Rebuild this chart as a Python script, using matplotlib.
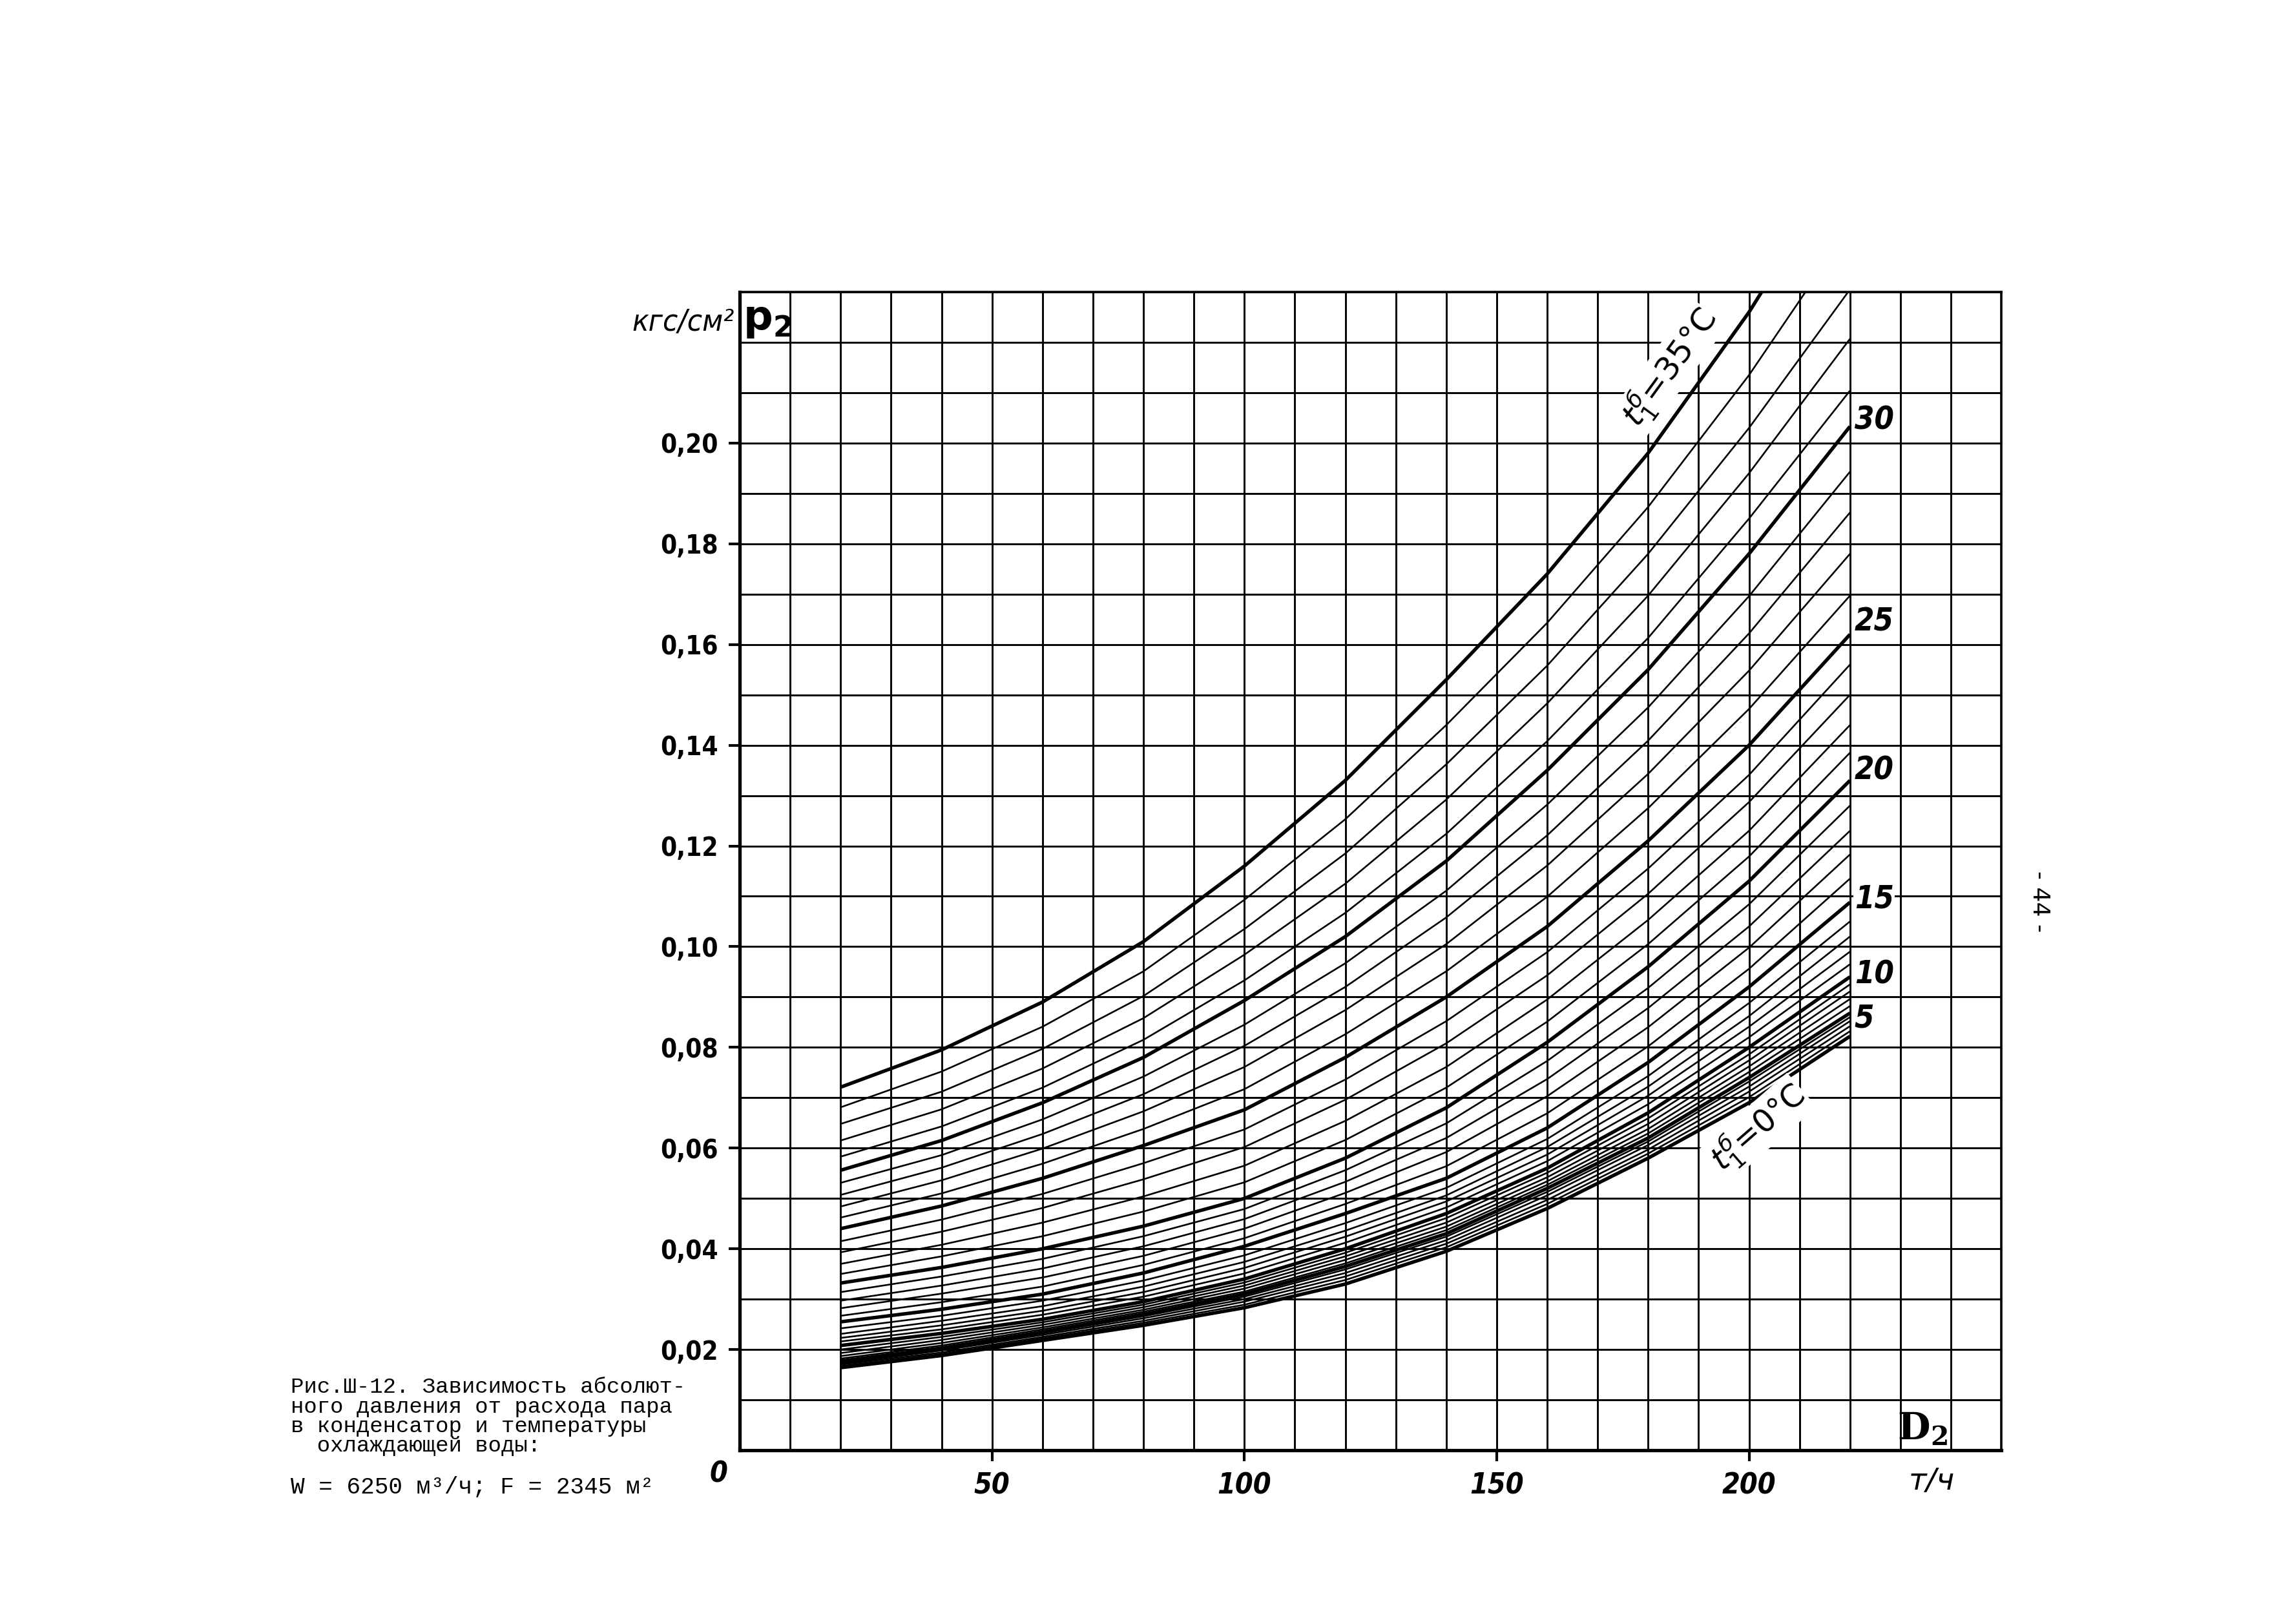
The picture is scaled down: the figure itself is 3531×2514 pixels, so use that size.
import numpy as np
import matplotlib.pyplot as plt

# cooling water temperature t1 (deg C), one curve per degree
temps = list(range(0, 36))
# steam flow D2 (t/h) where the curves were read
d2_points = [20, 40, 60, 80, 100, 120, 140, 160, 180, 200, 220]

# absolute pressure p2 (kgf/cm2) for t1 = 0..35 at each D2 point
p2_d20 = [.0164, .0167, .0170, .0172, .0174, .0177, .0182, .0187, .0193, .0200,
          .0208, .0216, .0223, .0231, .0242, .0255, .0267, .0282, .0297, .0314,
          .0332, .0350, .0370, .0393, .0415, .0440, .0462, .0484, .0507, .0531,
          .0556, .0583, .0615, .0648, .0681, .0721]
p2_d40 = [.0188, .0191, .0194, .0198, .0200, .0203, .0208, .0213, .0219, .0225,
          .0232, .0240, .0248, .0257, .0267, .0280, .0294, .0311, .0327, .0345,
          .0363, .0385, .0408, .0434, .0458, .0485, .0510, .0536, .0561, .0586,
          .0615, .0643, .0677, .0712, .0752, .0795]
p2_d60 = [.0218, .0222, .0225, .0229, .0232, .0235, .0240, .0244, .0249, .0254,
          .0260, .0269, .0277, .0286, .0297, .0310, .0325, .0343, .0361, .0380,
          .0400, .0425, .0452, .0481, .0509, .0540, .0569, .0599, .0628, .0657,
          .0690, .0720, .0758, .0797, .0841, .0890]
p2_d80 = [.0248, .0253, .0257, .0262, .0266, .0270, .0275, .0279, .0284, .0289,
          .0295, .0305, .0314, .0325, .0337, .0352, .0368, .0386, .0405, .0425,
          .0445, .0474, .0504, .0538, .0570, .0605, .0638, .0673, .0707, .0742,
          .0780, .0815, .0858, .0902, .0951, .1010]
p2_d100 = [.0283, .0289, .0295, .0300, .0305, .0310, .0315, .0321, .0327, .0333,
           .0340, .0351, .0362, .0374, .0387, .0405, .0421, .0440, .0459, .0479,
           .0500, .0532, .0565, .0602, .0637, .0676, .0717, .0761, .0803, .0845,
           .0893, .0933, .0984, .1035, .1093, .1160]
p2_d120 = [.0330, .0338, .0345, .0352, .0359, .0365, .0371, .0378, .0385, .0392,
           .0400, .0412, .0424, .0436, .0451, .0470, .0489, .0511, .0533, .0556,
           .0580, .0616, .0654, .0696, .0736, .0780, .0826, .0874, .0920, .0967,
           .1020, .1067, .1125, .1185, .1253, .1330]
p2_d140 = [.0395, .0403, .0410, .0417, .0424, .0430, .0437, .0444, .0452, .0461,
           .0470, .0482, .0494, .0506, .0521, .0540, .0564, .0592, .0620, .0649,
           .0680, .0720, .0761, .0808, .0852, .0900, .0951, .1005, .1058, .1111,
           .1170, .1224, .1292, .1362, .1440, .1530]
p2_d160 = [.0480, .0489, .0497, .0506, .0513, .0520, .0527, .0534, .0542, .0551,
           .0560, .0574, .0587, .0602, .0618, .0640, .0669, .0703, .0737, .0773,
           .0810, .0851, .0895, .0943, .0989, .1040, .1099, .1161, .1221, .1282,
           .1350, .1408, .1483, .1558, .1643, .1740]
p2_d180 = [.0580, .0589, .0597, .0606, .0613, .0620, .0629, .0638, .0648, .0659,
           .0670, .0687, .0704, .0722, .0743, .0770, .0802, .0840, .0878, .0918,
           .0960, .1005, .1053, .1105, .1155, .1210, .1275, .1343, .1409, .1475,
           .1550, .1613, .1697, .1780, .1873, .1980]
p2_d200 = [.0690, .0701, .0712, .0722, .0732, .0740, .0751, .0762, .0774, .0786,
           .0800, .0820, .0841, .0862, .0888, .0920, .0956, .0998, .1040, .1084,
           .1130, .1179, .1230, .1287, .1341, .1400, .1472, .1548, .1622, .1696,
           .1780, .1850, .1940, .2030, .2135, .2260]
p2_d220 = [.0822, .0832, .0842, .0852, .0860, .0868, .0882, .0896, .0911, .0925,
           .0940, .0965, .0990, .1020, .1050, .1088, .1135, .1183, .1230, .1280,
           .1330, .1385, .1440, .1500, .1560, .1620, .1697, .1780, .1862, .1943,
           .2033, .2104, .2207, .2305, .2430, .2580]

y_ticks = [0.02, 0.04, 0.06, 0.08, 0.10, 0.12, 0.14, 0.16, 0.18, 0.20]
y_labels = ['0,02', '0,04', '0,06', '0,08', '0,10', '0,12', '0,14', '0,16', '0,18', '0,20']
x_ticks = [50, 100, 150, 200]
right_labels = [5, 10, 15, 20, 25, 30]

p2 = np.column_stack([p2_d20, p2_d40, p2_d60, p2_d80, p2_d100, p2_d120,
                      p2_d140, p2_d160, p2_d180, p2_d200, p2_d220])

cond = dict(family=['DejaVu Sans'], stretch='condensed', weight='bold')
mono = ['Liberation Mono', 'DejaVu Sans Mono']

fig = plt.figure(figsize=(35.31, 25.14), dpi=100)
ax = fig.add_axes([0.3243, 0.1070, 0.5531, 0.7132])
ax.set_xlim(0, 250)
ax.set_ylim(0, 0.23)

# grid every 10 t/h and every 0.01 kgf/cm2
ax.set_xticks(np.arange(0, 251, 10), minor=True)
ax.set_yticks(np.arange(0, 0.2301, 0.01), minor=True)
ax.tick_params(which='minor', length=0)

ax.set_xticks(x_ticks)
ax.set_xticklabels([str(v) for v in x_ticks])
ax.set_yticks(y_ticks)
ax.set_yticklabels(y_labels)
ax.grid(which='both', color='black', lw=2.1)
ax.tick_params(axis='both', which='major', direction='out', length=12, width=3,
               color='black', labelsize=29, pad=12)
for lab in ax.get_xticklabels() + ax.get_yticklabels():
    lab.set_family(cond['family'])
    lab.set_stretch('condensed')
    lab.set_weight('bold')
for lab in ax.get_xticklabels():
    lab.set_style('italic')
    lab.set_fontsize(32)

for side in ['left', 'bottom']:
    ax.spines[side].set_linewidth(3.8)
for side in ['top', 'right']:
    ax.spines[side].set_linewidth(2.6)

for i, t in enumerate(temps):
    thick = t % 5 == 0
    ax.plot(d2_points, p2[i], color='black', lw=3.9 if thick else 1.9,
            solid_capstyle='butt', zorder=3)

# labels of the every-5-degree curves on the right
label_shift = {5: -0.001, 10: 0.0005, 15: 0.0007, 20: 0.002, 25: 0.0025, 30: 0.0012}
for t in right_labels:
    ax.text(220.9, p2[t, -1] + label_shift[t], str(t), fontsize=35, style='italic',
            ha='left', va='center', zorder=4, **cond,
            bbox=dict(facecolor='white', edgecolor='none', pad=1))

ax.text(184.3, 0.2150, r'$t_1^{б}$=35°C', fontsize=36, rotation=54,
        ha='center', va='center', zorder=4,
        bbox=dict(facecolor='white', edgecolor='none', pad=1))
ax.text(201.8, 0.0640, r'$t_1^{б}$=0°C', fontsize=35, rotation=41,
        ha='center', va='center', zorder=4,
        bbox=dict(facecolor='white', edgecolor='none', pad=2))

# axis names in their grid cells
ax.text(5.5, 0.2245, r'$\mathregular{p_2}$', fontsize=46, weight='bold',
        ha='center', va='center', zorder=4)
ax.text(234.3, 0.0042, r'$\mathregular{D_2}$', fontsize=42, family='DejaVu Serif',
        weight='bold', ha='center', va='center', zorder=4)

fig.text(1137 / 3531, 1 - 500 / 2514, 'кгс/см²', fontsize=34, style='italic',
         stretch='condensed', ha='right', va='center')
fig.text(1112 / 3531, 1 - 2282 / 2514, '0', fontsize=32, style='italic',
         ha='center', va='center', **cond)
fig.text(2990 / 3531, 1 - 2294 / 2514, 'т/ч', fontsize=34, style='italic',
         ha='center', va='center')
fig.text(3157 / 3531, 1 - 1395 / 2514, '- 44 -', fontsize=26, rotation=270,
         ha='center', va='center')

caption = ['Рис.Ш-12. Зависимость абсолют-',
           'ного давления от расхода пара',
           'в конденсатор и температуры',
           '  охлаждающей воды:']
for k, line in enumerate(caption):
    fig.text(450 / 3531, 1 - (2148 + 30 * k) / 2514, line, fontsize=24.5,
             family=mono, ha='left', va='center')
fig.text(450 / 3531, 1 - 2302 / 2514, 'W = 6250 м³/ч; F = 2345 м²',
         fontsize=26, family=mono, ha='left', va='center')

fig.savefig('out.png', dpi=100, facecolor='white')
